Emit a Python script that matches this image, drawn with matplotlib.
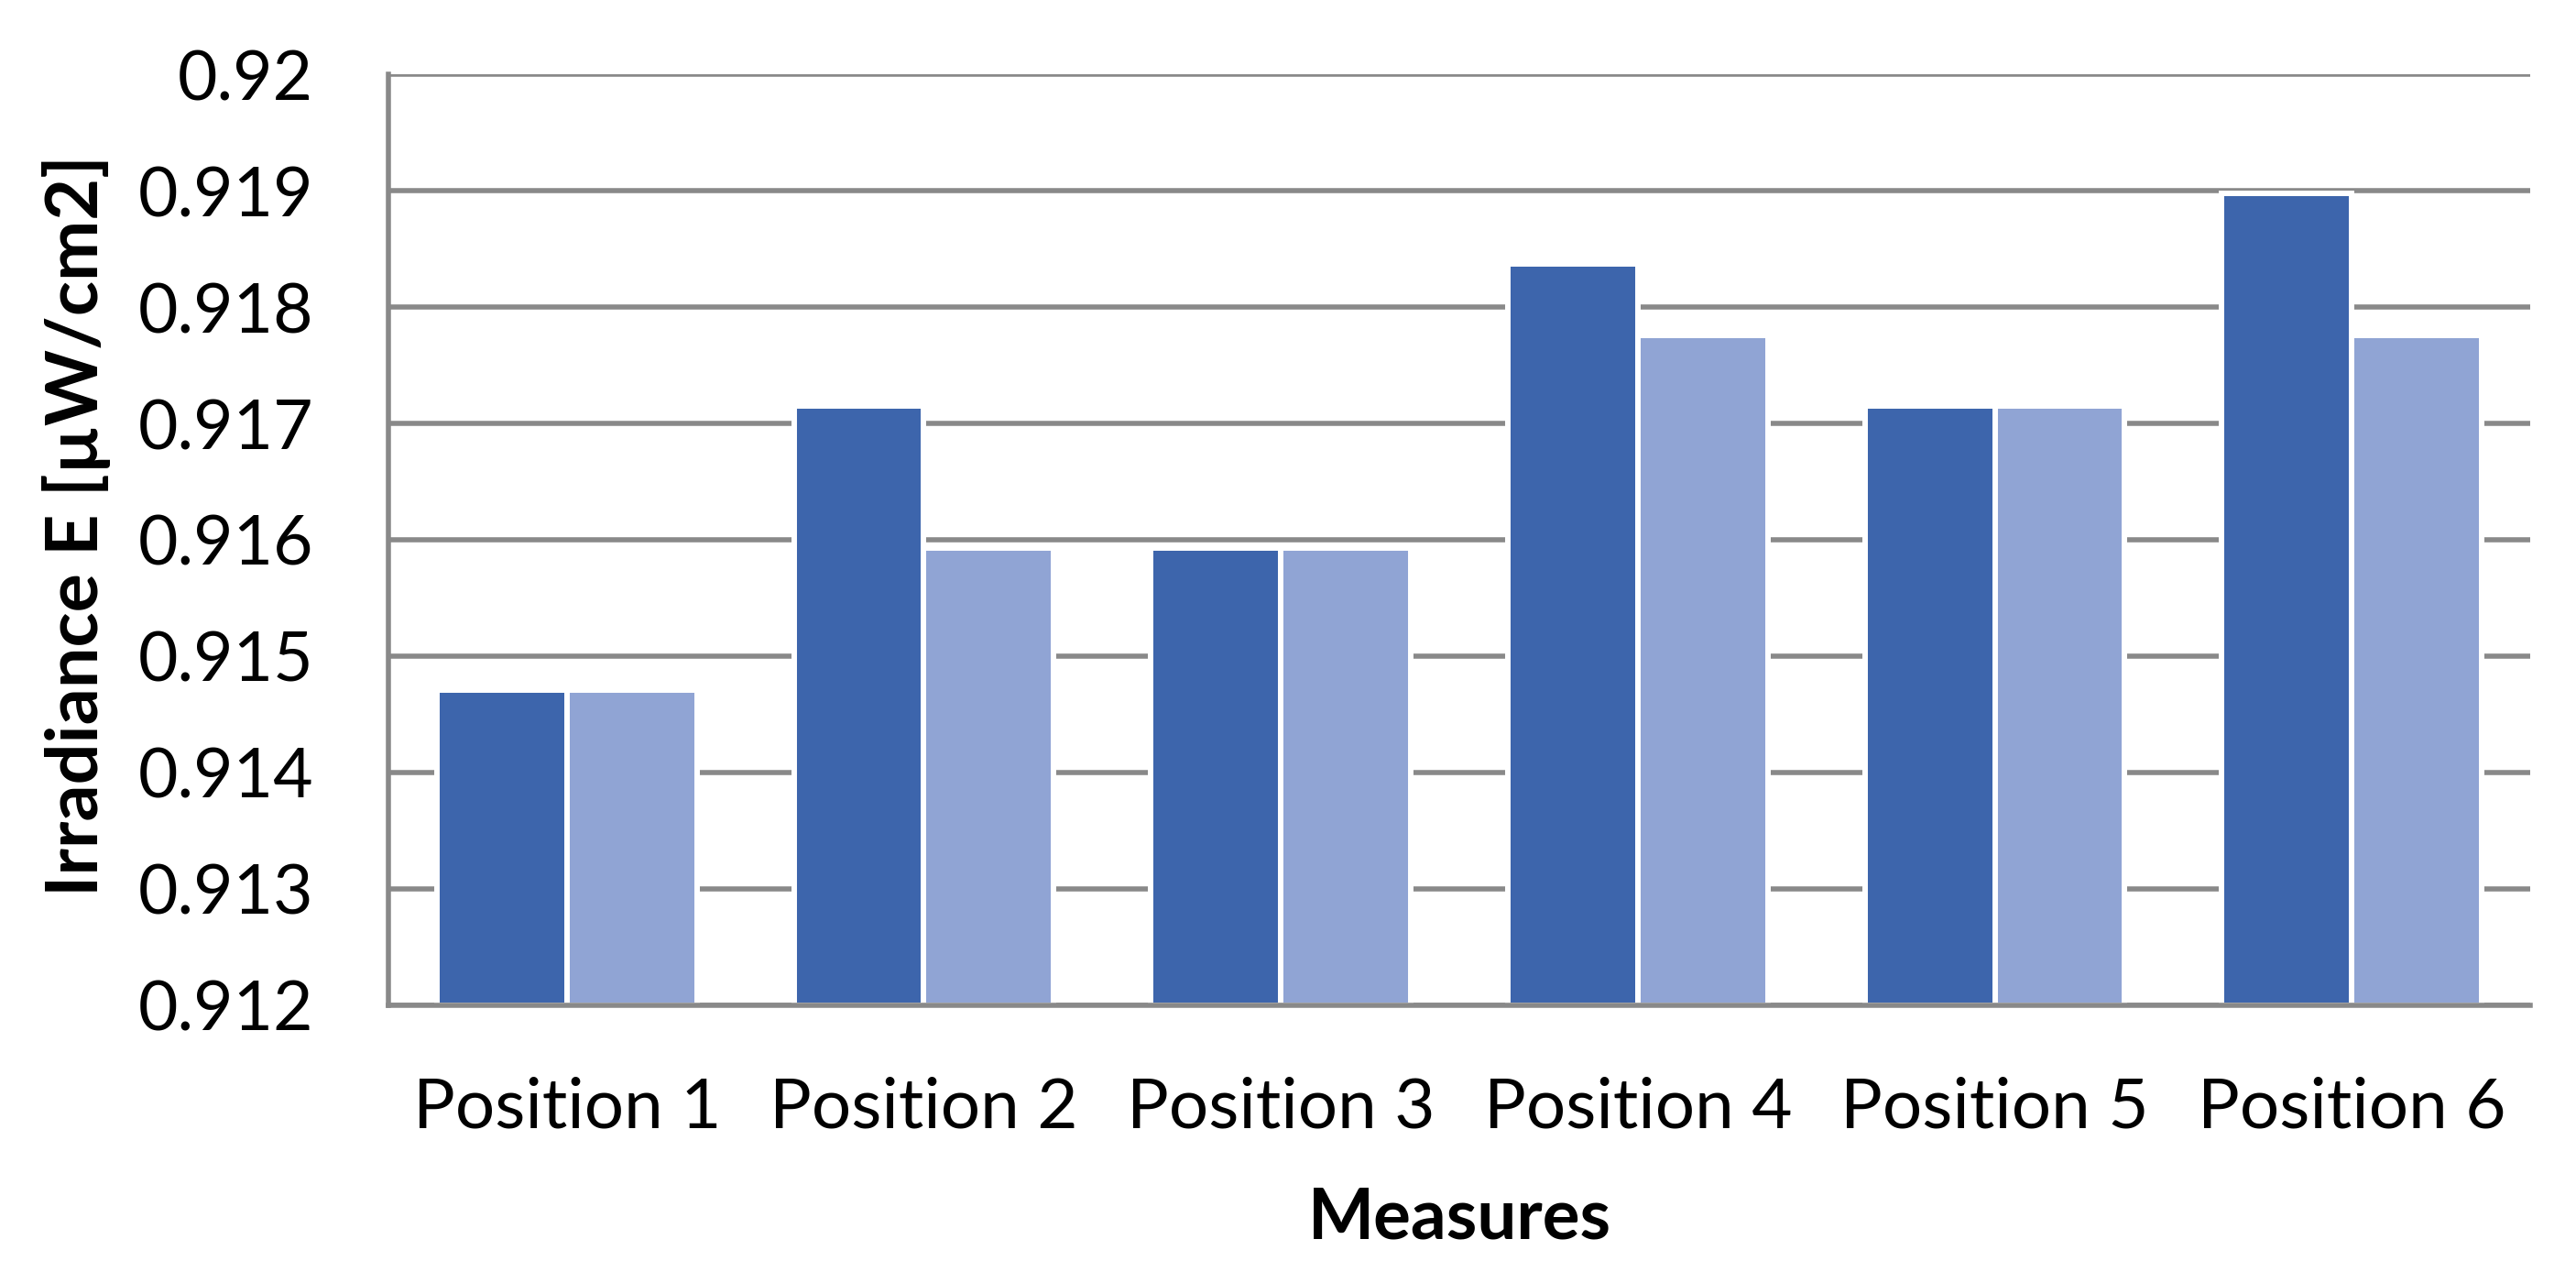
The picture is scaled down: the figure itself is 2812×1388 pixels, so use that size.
import matplotlib
matplotlib.use("Agg")
import matplotlib.pyplot as plt
import numpy as np

categories = ["Position 1", "Position 2", "Position 3", "Position 4", "Position 5", "Position 6"]
series_a = [0.91471, 0.91715, 0.91593, 0.91837, 0.91715, 0.91898]
series_b = [0.91471, 0.91593, 0.91593, 0.91776, 0.91715, 0.91776]
y_ticks = [0.912, 0.913, 0.914, 0.915, 0.916, 0.917, 0.918, 0.919, 0.92]
y_tick_labels = ["0.912", "0.913", "0.914", "0.915", "0.916", "0.917", "0.918", "0.919", "0.92"]

plt.rcParams['font.family'] = ['Lato', 'DejaVu Sans']

W, H = 2812, 1388
fig = plt.figure(figsize=(W / 100, H / 100), dpi=100)
ax = fig.add_axes([424 / W, 1 - 1096.6 / H, (2762 - 424) / W, (1096.6 - 81.3) / H])

x = np.arange(len(categories))
bw = 0.3644
grid_c = "#898989"
lw_edge = 4.3

ax.set_ylim(0.912, 0.920)
ax.set_xlim(-0.5, len(categories) - 0.5)
ax.set_yticks(y_ticks)
ax.set_yticklabels(y_tick_labels)
ax.yaxis.grid(True, color=grid_c, linewidth=4.0)
ax.set_axisbelow(True)

ax.bar(x - bw / 2, [v - 0.912 for v in series_a], bottom=0.912, width=bw,
       color="#3D65AC", edgecolor="white", linewidth=lw_edge, zorder=2)
ax.bar(x + bw / 2, [v - 0.912 for v in series_b], bottom=0.912, width=bw,
       color="#90A4D4", edgecolor="white", linewidth=lw_edge, zorder=2)

ax.set_xticks(x)
ax.set_xticklabels(categories)

for s in ["top", "right"]:
    ax.spines[s].set_visible(False)
for s in ["left", "bottom"]:
    ax.spines[s].set_color(grid_c)
    ax.spines[s].set_linewidth(4.0)
    ax.spines[s].set_zorder(3)

ax.tick_params(axis="both", length=0, colors="black")
ax.tick_params(axis="y", pad=59, labelsize=54)
ax.tick_params(axis="x", pad=56, labelsize=55)

fig.text(84 / W, 1 - 574 / H, "Irradiance E [µW/cm2]", rotation=90,
         ha="center", va="center", fontsize=57, fontweight="bold")
fig.text(1593 / W, 1 - 1330 / H, "Measures", ha="center", va="center",
         fontsize=55, fontweight="bold")

fig.savefig("out.png", dpi=100, facecolor="white")
